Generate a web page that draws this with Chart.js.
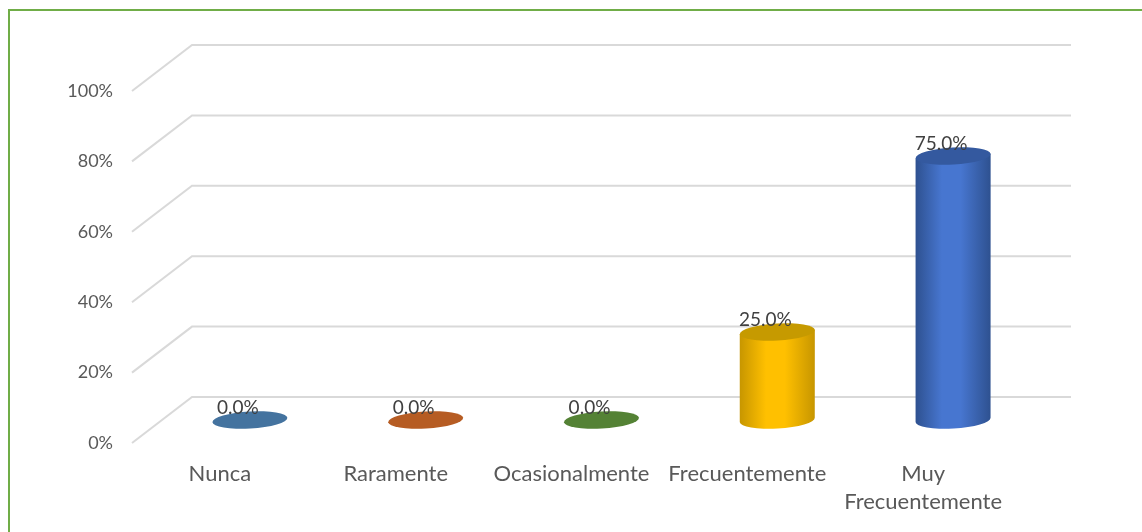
<!DOCTYPE html>
<html>
<head>
<meta charset="utf-8">
<script src="https://cdn.jsdelivr.net/npm/chart.js@4/dist/chart.umd.min.js"></script>
<style>
  html, body { margin: 0; padding: 0; background: #fff; }
  #wrap { width: 1142px; height: 532px; }
</style>
</head>
<body>
<div id="wrap"><canvas id="myChart" width="1142" height="532"></canvas></div>
<script>
// datos
var categorias = ['Nunca', 'Raramente', 'Ocasionalmente', 'Frecuentemente', ['Muy', 'Frecuentemente']];
var porcentajes = [0, 0, 0, 25, 75];
var colores = ['#44739F', '#B65C23', '#548235', '#FFC000', '#4776D0'];
var coloresOscuros = ['#44739F', '#B65C23', '#548235', '#C79600', '#2E5190'];
var coloresTapa = ['#44739F', '#B65C23', '#548235', '#C69A00', '#34599F'];
var ticksY = [0, 20, 40, 60, 80, 100];

var FUENTE = 'Lato, "Open Sans", sans-serif';
var fondoX = 60, fondoY = -46;   // pared del fondo
var medioX = 30, medioY = -23;   // plano de los cilindros

// marco verde y rejilla en perspectiva
var rejilla3d = {
  id: 'rejilla3d',
  beforeDraw: function (chart) {
    var c = chart.ctx;
    c.save();
    c.fillStyle = '#fff';
    c.fillRect(0, 0, chart.width, chart.height);
    c.strokeStyle = '#70AD47';
    c.lineWidth = 2;
    c.strokeRect(9, 10, 1300, 700);
    c.restore();
  },
  beforeDatasetsDraw: function (chart) {
    var c = chart.ctx, a = chart.chartArea, y = chart.scales.y;
    c.save();
    c.strokeStyle = '#D9D9D9';
    c.lineWidth = 2;
    ticksY.forEach(function (v) {
      var py = y.getPixelForValue(v);
      c.beginPath();
      c.moveTo(a.left, py);
      c.lineTo(a.left + fondoX, py + fondoY);
      c.lineTo(a.right + fondoX, py + fondoY);
      c.stroke();
    });
    c.restore();
  }
};

// cilindros dibujados sobre las barras
var cilindros = {
  id: 'cilindros',
  afterDatasetsDraw: function (chart) {
    var c = chart.ctx;
    var meta = chart.getDatasetMeta(0);
    meta.data.forEach(function (bar, i) {
      var cx = bar.x + medioX;
      var rx = bar.width / 2, ry = 8.5, rot = -0.06;
      var top = bar.y + medioY, base = bar.base + medioY;
      c.save();
      if (base - top < 1) {
        c.fillStyle = colores[i];
        c.beginPath();
        c.ellipse(cx, base, rx, ry, rot, 0, Math.PI * 2);
        c.fill();
      } else {
        var g = c.createLinearGradient(cx - rx, 0, cx + rx, 0);
        g.addColorStop(0, coloresOscuros[i]);
        g.addColorStop(0.35, colores[i]);
        g.addColorStop(0.6, colores[i]);
        g.addColorStop(1, coloresOscuros[i]);
        c.fillStyle = g;
        c.beginPath();
        c.moveTo(cx - rx, top + rx * Math.sin(-rot));
        c.lineTo(cx - rx, base + rx * Math.sin(-rot));
        c.ellipse(cx, base, rx, ry, rot, Math.PI, 0, true);
        c.lineTo(cx + rx, top - rx * Math.sin(-rot));
        c.closePath();
        c.fill();
        c.fillStyle = coloresTapa[i];
        c.beginPath();
        c.ellipse(cx, top, rx, ry, rot, 0, Math.PI * 2);
        c.fill();
      }
      // etiqueta
      c.fillStyle = '#404040';
      c.font = '19px ' + FUENTE;
      c.textAlign = 'center';
      c.textBaseline = 'alphabetic';
      c.fillText(porcentajes[i].toFixed(1) + '%', cx - 12, top - ry + 2);
      c.restore();
    });
  }
};

var ctx = document.getElementById('myChart').getContext('2d');
var myChart = new Chart(ctx, {
  type: 'bar',
  data: {
    labels: categorias,
    datasets: [{
      data: porcentajes,
      backgroundColor: 'rgba(0,0,0,0)',
      borderWidth: 0,
      barPercentage: 0.427,
      categoryPercentage: 1
    }]
  },
  options: {
    responsive: false,
    animation: false,
    layout: { padding: { top: 91, right: 131, left: 0, bottom: 0 } },
    plugins: { legend: { display: false }, tooltip: { enabled: false } },
    scales: {
      x: {
        grid: { display: false, drawTicks: false },
        border: { display: false },
        ticks: { color: '#595959', font: { family: FUENTE, size: 22, lineHeight: 1.27 }, padding: 17, maxRotation: 0, autoSkip: false },
        afterFit: function (s) { s.height = 89; }
      },
      y: {
        min: 0, max: 100,
        grid: { display: false, drawTicks: false },
        border: { display: false },
        ticks: {
          stepSize: 20, padding: 19, color: '#595959',
          font: { family: FUENTE, size: 18 },
          callback: function (v) { return v + '%'; }
        },
        afterFit: function (s) { s.width = 132; }
      }
    }
  },
  plugins: [rejilla3d, cilindros]
});
</script>
</body>
</html>
